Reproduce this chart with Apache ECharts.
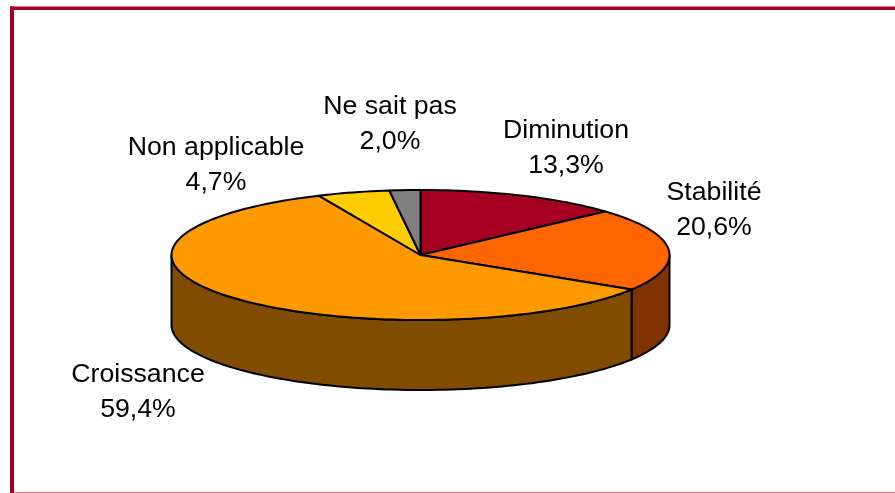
<!DOCTYPE html>
<html><head><meta charset="utf-8">
<style>html,body{margin:0;padding:0;background:#fff}#c{width:895px;height:493px}</style>
<script src="https://cdn.jsdelivr.net/npm/echarts@6/dist/echarts.min.js"></script>
</head><body><div id="c"></div>
<script>
const categories = ['Diminution', 'Stabilité', 'Croissance', 'Non applicable', 'Ne sait pas'];
const values = [13.3, 20.6, 59.4, 4.7, 2.0];
const valueLabels = ['13,3%', '20,6%', '59,4%', '4,7%', '2,0%'];
const topColors = ['#A50021', '#FF6600', '#FF9900', '#FFCC00', '#808080'];
const wallColors = ['#52000F', '#803300', '#804D00', '#806600', '#404040'];
const labelCenters = [[566, 148], [714, 210], [138, 392], [216, 165], [390, 124]];

const CX = 420.5, CY = 255, RX = 249, RY = 65, DEPTH = 70;
const FONT = '26.7px "Liberation Sans", Arial, sans-serif';
const total = values.reduce((a, b) => a + b, 0);
const pt = (deg, dy) => {
  const a = deg * Math.PI / 180;
  return [CX + RX * Math.sin(a), CY - RY * Math.cos(a) + (dy || 0)];
};
const arc = (from, to, dy) => {
  const out = [];
  const n = Math.max(2, Math.ceil(Math.abs(to - from) / 1.5));
  for (let i = 0; i <= n; i++) out.push(pt(from + (to - from) * i / n, dy));
  return out;
};
const edge = { stroke: '#000', lineWidth: 2, lineJoin: 'round' };

function renderItem(params, api) {
  const i = params.dataIndex;
  let before = 0;
  for (let k = 0; k < i; k++) before += values[k];
  const start = before / total * 360;
  const end = start + api.value(0) / total * 360;
  const children = [];
  const wFrom = Math.max(start, 90), wTo = Math.min(end, 270);
  if (wFrom < wTo) {
    children.push({
      type: 'polygon',
      shape: { points: arc(wFrom, wTo, 0).concat(arc(wTo, wFrom, DEPTH)) },
      style: Object.assign({ fill: wallColors[i] }, edge)
    });
  }
  children.push({
    type: 'polygon',
    shape: { points: [[CX, CY]].concat(arc(start, end, 0)) },
    style: Object.assign({ fill: topColors[i] }, edge)
  });
  children.push({
    type: 'text',
    style: {
      text: categories[i] + '\n' + valueLabels[i],
      x: labelCenters[i][0], y: labelCenters[i][1],
      align: 'center', verticalAlign: 'middle',
      font: FONT, lineHeight: 35, fill: '#000'
    }
  });
  return { type: 'group', children };
}

const chart = echarts.init(document.getElementById('c'), null, { renderer: 'canvas' });
chart.setOption({
  animation: false,
  backgroundColor: '#fff',
  graphic: [
    { type: 'rect', shape: { x: 10, y: 6.4, width: 885, height: 3.6 }, style: { fill: '#A50021' } },
    { type: 'rect', shape: { x: 10, y: 6.4, width: 4, height: 486.6 }, style: { fill: '#A50021' } },
    { type: 'rect', shape: { x: 14, y: 492, width: 881, height: 1 }, style: { fill: '#DE6F8B' } }
  ],
  series: [{
    type: 'custom',
    coordinateSystem: 'none',
    renderItem,
    data: values.map((v, i) => ({ name: categories[i], value: [v] }))
  }]
});
</script></body></html>
